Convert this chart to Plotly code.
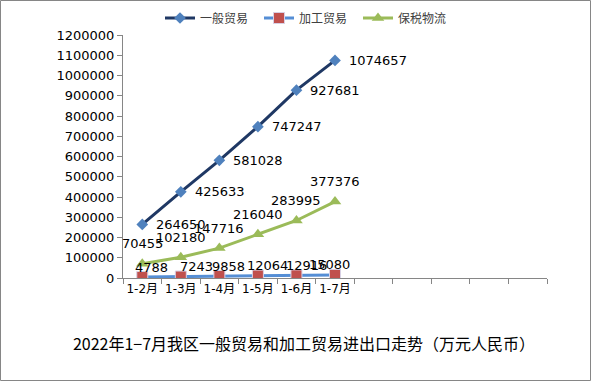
import plotly.graph_objects as go

months = ["1-2月", "1-3月", "1-4月", "1-5月", "1-6月", "1-7月"]
n_slots = 11
general_trade = [264650, 425633, 581028, 747247, 927681, 1074657]
processing_trade = [4788, 7243, 9858, 12064, 12916, 15080]
bonded_logistics = [70455, 102180, 147716, 216040, 283995, 377376]
series_names = ["一般贸易", "加工贸易", "保税物流"]
title_text = "2022年1−7月我区一般贸易和加工贸易进出口走势（万元人民币）"

xs = list(range(len(months)))
LABEL_FONT = dict(family="DejaVu Sans, Noto Sans CJK SC", size=13, color="#000000")
AXIS_GREY = "#868686"

fig = go.Figure()
fig.add_trace(go.Scatter(
    x=xs, y=general_trade, name=series_names[0], mode="lines+markers",
    line=dict(color="#1F3864", width=3),
    marker=dict(symbol="diamond", size=9, color="#4F81BD"),
))
fig.add_trace(go.Scatter(
    x=xs, y=processing_trade, name=series_names[1], mode="lines+markers",
    line=dict(color="#558ED5", width=3),
    marker=dict(symbol="square", size=11, color="#C0504D", line=dict(color="#D8D0E4", width=1)),
))
fig.add_trace(go.Scatter(
    x=xs, y=bonded_logistics, name=series_names[2], mode="lines+markers",
    line=dict(color="#9BBB59", width=3),
    marker=dict(symbol="triangle-up", size=11, color="#9BBB59"),
))

annotations = []
for x, v in zip(xs, general_trade):
    annotations.append(dict(x=x, y=v, text=str(v), showarrow=False, xanchor="left",
                            yanchor="middle", xshift=12, font=LABEL_FONT))
for x, v in zip(xs, bonded_logistics):
    annotations.append(dict(x=x, y=v, text=str(v), showarrow=False, xanchor="center",
                            yanchor="middle", yshift=20, font=LABEL_FONT))
proc_xshift = [9, 16, 9, 10, 10, -6]
for x, v, dx in zip(xs, processing_trade, proc_xshift):
    annotations.append(dict(x=x, y=v, text=str(v), showarrow=False, xanchor="center",
                            yanchor="middle", xshift=dx, yshift=10, font=LABEL_FONT))

W, H = 592, 382
L, R, T, B = 123, 45, 35, 104
pw, ph = W - L - R, H - T - B
def px_to_paper_x(px):
    return (px - L) / pw
def py_to_paper_y(py):
    return (H - B - py) / ph

fig.add_shape(type="rect", xref="paper", yref="paper",
              x0=px_to_paper_x(0.5), x1=px_to_paper_x(590.5),
              y0=py_to_paper_y(380.5), y1=py_to_paper_y(0.5),
              line=dict(color="#868686", width=1), layer="below")

fig.update_layout(
    width=W, height=H,
    margin=dict(l=L, r=R, t=T, b=B, autoexpand=False),
    paper_bgcolor="white", plot_bgcolor="white",
    annotations=annotations,
    showlegend=True,
    legend=dict(orientation="h", xref="container", yref="container",
                x=160 / W, y=1 - 18 / H, xanchor="left", yanchor="middle",
                font=dict(family="Noto Sans CJK SC", size=12, color="#404040"),
                entrywidth=54, itemwidth=30, bgcolor="rgba(0,0,0,0)"),
    title=dict(text=title_text, xref="container", yref="container",
               x=304 / W, y=1 - 344 / H, xanchor="center", yanchor="middle",
               font=dict(family="Noto Sans CJK SC", size=16, color="#000000")),
    xaxis=dict(range=[-0.5, n_slots - 0.5], tickmode="array", tickvals=xs, ticktext=months,
               ticks="", showgrid=False, zeroline=False, showline=True,
               linecolor=AXIS_GREY, linewidth=1,
               tickfont=dict(family="DejaVu Sans, Noto Sans CJK SC", size=12, color="#000000"),
               minor=dict(tickmode="array", tickvals=[i - 0.5 for i in range(n_slots + 1)],
                          ticks="outside", ticklen=5, tickcolor=AXIS_GREY, showgrid=False)),
    yaxis=dict(range=[0, 1200000], dtick=100000, tick0=0, tickformat="d",
               ticks="outside", ticklen=5, tickcolor=AXIS_GREY, showgrid=False,
               zeroline=False, showline=True, linecolor=AXIS_GREY, linewidth=1,
               tickfont=dict(family="DejaVu Sans", size=13, color="#000000")),
)

fig.write_html("out.html", config={"displayModeBar": False},
               post_script="document.body.style.margin='0';")
